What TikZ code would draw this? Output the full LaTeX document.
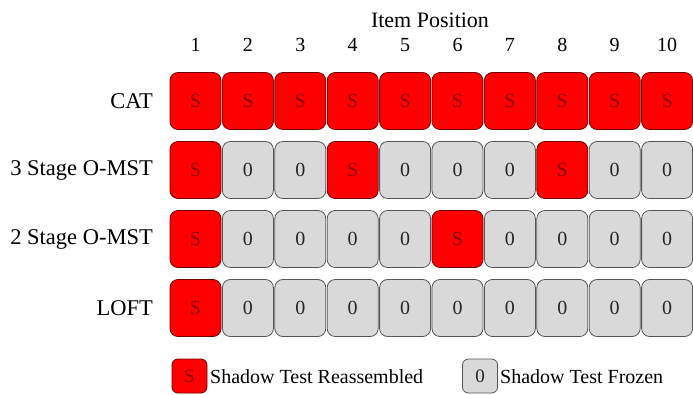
\documentclass[tikz,border=0pt]{standalone}
\usepackage{fontspec}
\setmainfont{Liberation Serif}
\definecolor{sred}{HTML}{FF0000}
\definecolor{sdark}{HTML}{8B0000}
\definecolor{fgray}{HTML}{D9D9D9}
\definecolor{bgray}{HTML}{555555}
\tikzset{
  cell/.style={minimum width=51pt, minimum height=57pt, rounded corners=8pt, line width=0.8pt, inner sep=0pt, font=\fontsize{20}{20}\selectfont},
  redcell/.style={cell, fill=sred, draw=sdark!80!black, text=sdark},
  graycell/.style={cell, fill=fgray, draw=bgray, text=black!85},
  lab/.style={anchor=east, font=\fontsize{22.5}{22.5}\selectfont, inner sep=0pt},
  num/.style={font=\fontsize{20}{20}\selectfont, inner sep=0pt},
  ttl/.style={font=\fontsize{22}{22}\selectfont, inner sep=0pt},
  legbox/.style={minimum width=35pt, minimum height=34pt, rounded corners=6pt, line width=0.8pt, inner sep=0pt, font=\fontsize{19}{19}\selectfont},
  legtext/.style={anchor=west, font=\fontsize{20}{20}\selectfont, inner sep=0pt}
}
\begin{document}
\begin{tikzpicture}[x=1pt,y=-1pt]
\useasboundingbox (0,0) rectangle (693,394);
\node[ttl] (title) at (430,20) {Item Position};
\foreach \i in {1,...,10} {
  \node[num] (n\i) at ({195.5+(\i-1)*52.4},45) {\i};
}
% rows
\node[lab] (lcat) at (153,101) {CAT};
\node[lab] (l3) at (153,170) {3 Stage O-MST};
\node[lab] (l2) at (153,239) {2 Stage O-MST};
\node[lab] (ll) at (153,308) {LOFT};
\foreach \i in {1,...,10} {
  \node[redcell] (c\i) at ({195.5+(\i-1)*52.4},101) {S};
}
\foreach \i in {1,...,10} {
  \ifnum\i=1 \node[redcell] (t\i) at ({195.5+(\i-1)*52.4},170) {S};
  \else\ifnum\i=4 \node[redcell] (t\i) at ({195.5+(\i-1)*52.4},170) {S};
  \else\ifnum\i=8 \node[redcell] (t\i) at ({195.5+(\i-1)*52.4},170) {S};
  \else \node[graycell] (t\i) at ({195.5+(\i-1)*52.4},170) {0};
  \fi\fi\fi
}
\foreach \i in {1,...,10} {
  \ifnum\i=1 \node[redcell] (w\i) at ({195.5+(\i-1)*52.4},239) {S};
  \else\ifnum\i=6 \node[redcell] (w\i) at ({195.5+(\i-1)*52.4},239) {S};
  \else \node[graycell] (w\i) at ({195.5+(\i-1)*52.4},239) {0};
  \fi\fi
}
\foreach \i in {1,...,10} {
  \ifnum\i=1 \node[redcell] (f\i) at ({195.5+(\i-1)*52.4},308) {S};
  \else \node[graycell] (f\i) at ({195.5+(\i-1)*52.4},308) {0};
  \fi
}
% legend
\node[legbox, fill=sred, draw=sdark!80!black, text=sdark] (lr) at (189.5,376) {S};
\node[legtext] (lrt) at (210,377) {Shadow Test Reassembled};
\node[legbox, fill=fgray, draw=bgray, text=black!85] (lg) at (480,376) {0};
\node[legtext] (lgt) at (500,377) {Shadow Test Frozen};
\end{tikzpicture}
\end{document}
